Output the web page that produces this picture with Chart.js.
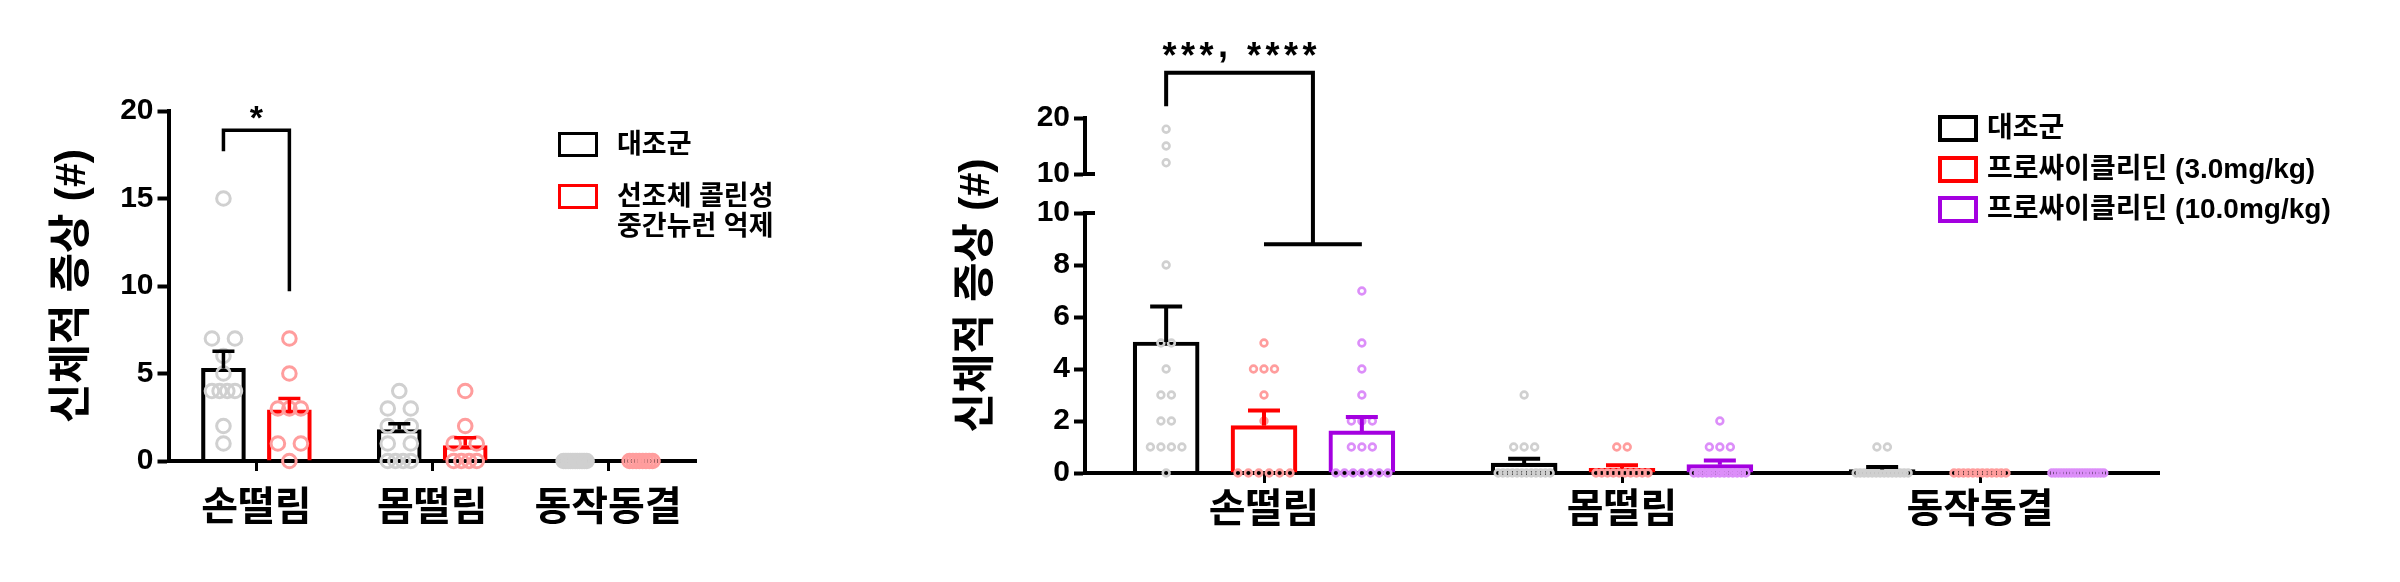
<!DOCTYPE html>
<html lang="ko">
<head>
<meta charset="utf-8">
<script src="https://cdn.jsdelivr.net/npm/chart.js@4.4.1/dist/chart.umd.min.js"></script>
<style>
  html, body { margin: 0; padding: 0; background: #ffffff; }
  body { width: 2400px; height: 582px; position: relative; overflow: hidden;
         font-family: 'Liberation Sans', 'Noto Sans CJK KR', sans-serif; }
  canvas { position: absolute; top: 0; }
  #cvA { left: 0; }
  #cvB { left: 800px; }
  .swatch { position: absolute; box-sizing: border-box; background: #ffffff; }
  .key { position: absolute; font-weight: bold; color: #000000; white-space: nowrap; }
  #legendA .key { font-size: 27px; line-height: 30px; }
  #legendB .key { font-size: 28px; line-height: 30px; }
</style>
</head>
<body>
<canvas id="cvA" width="760" height="582"></canvas>
<canvas id="cvB" width="1600" height="582"></canvas>
<div id="legendA"></div>
<div id="legendB"></div>
<script>
// ----- shared -----
const categories = ['손떨림', '몸떨림', '동작동결'];
const axisTitle = '신체적 증상 (#)';

// ----- panel A: 선조체 콜린성 중간뉴런 억제 -----
const groupsA = [['대조군'], ['선조체 콜린성', '중간뉴런 억제']];
const meanA_ctrl = [5.3, 1.8, 0];
const semA_ctrl = [0.97, 0.33, 0];
const meanA_cin = [2.92, 0.88, 0];
const semA_cin = [0.65, 0.45, 0];
const pointsA_ctrl = [
  [15, 7, 7, 6, 5, 4, 4, 4, 4, 2, 1],
  [4, 3, 3, 2, 2, 1, 1, 0, 0, 0, 0],
  [0, 0, 0, 0, 0, 0, 0, 0, 0, 0, 0]
];
const pointsA_cin = [
  [7, 5, 3, 3, 3, 1, 1, 0],
  [4, 2, 1, 1, 0, 0, 0, 0],
  [0, 0, 0, 0, 0, 0, 0, 0]
];
const ticksA = [0, 5, 10, 15, 20];
const sigA = '*';
const bracketA = [17.7, 18.9, 9.7];   // left leg end, top, right leg end
const sigA_y = 19.9;

// ----- panel B: 프로싸이클리딘 -----
const groupsB = [['대조군'], ['프로싸이클리딘 (3.0mg/kg)'], ['프로싸이클리딘 (10.0mg/kg)']];
const meanB_ctrl = [5.04, 0.38, 0.13];
const semB_ctrl = [1.36, 0.17, 0.1];
const meanB_low = [1.82, 0.18, 0];
const semB_low = [0.58, 0.12, 0];
const meanB_high = [1.62, 0.32, 0];
const semB_high = [0.53, 0.16, 0];
const pointsB_ctrl = [
  [18, 15, 12, 8, 5, 5, 4, 3, 3, 2, 2, 1, 1, 1, 1, 0],
  [3, 1, 1, 1, 0, 0, 0, 0, 0, 0, 0, 0, 0, 0, 0, 0],
  [1, 1, 0, 0, 0, 0, 0, 0, 0, 0, 0, 0, 0, 0, 0, 0]
];
const pointsB_low = [
  [5, 4, 4, 4, 3, 2, 0, 0, 0, 0, 0, 0],
  [1, 1, 0, 0, 0, 0, 0, 0, 0, 0, 0, 0],
  [0, 0, 0, 0, 0, 0, 0, 0, 0, 0, 0, 0]
];
const pointsB_high = [
  [7, 5, 4, 3, 2, 2, 2, 1, 1, 1, 0, 0, 0, 0, 0, 0, 0],
  [2, 1, 1, 1, 0, 0, 0, 0, 0, 0, 0, 0, 0, 0, 0, 0, 0],
  [0, 0, 0, 0, 0, 0, 0, 0, 0, 0, 0, 0, 0, 0, 0, 0, 0]
];
const ticksB_low = [0, 2, 4, 6, 8, 10];
const ticksB_high = [10, 20];
const sigB = '***, ****';
const bracketB = [22.1, 28.1, 8.8];
const sigB_y = 32.1;

// ----- styles -----
const FONT = "'Liberation Sans', 'Noto Sans CJK KR', sans-serif";
const BLACK = '#000000', RED = '#ff0000', PURPLE = '#a400e0';
const GRAY_PT = '#d0d0d0', RED_PT = '#ff9d9d', PURPLE_PT = '#dc8ef9';
const CLEAR = 'rgba(255,255,255,0)';

// centre of group i (of n) inside a category, in category units
function groupOffset(i, n, catPct) {
  return -catPct / 2 + (i + 0.5) * catPct / n;
}

// one bar per category, placed at its group position
function barPoints(means, i, n, catPct) {
  return means.map((m, c) => ({ x: c + groupOffset(i, n, catPct), y: m }));
}

// equal values are laid side by side around the group centre
function spread(perCategory, i, n, catPct, stepPx, maxSpanPx, pxPerCat) {
  const out = [];
  perCategory.forEach((values, c) => {
    const centre = c + groupOffset(i, n, catPct);
    const counts = {}, seen = {};
    values.forEach(v => { counts[v] = (counts[v] || 0) + 1; });
    values.forEach(v => {
      const cnt = counts[v];
      const k = seen[v] = (seen[v] === undefined ? 0 : seen[v] + 1);
      const step = cnt > 1 ? Math.min(stepPx, maxSpanPx / (cnt - 1)) : 0;
      out.push({ x: centre + (k - (cnt - 1) / 2) * step / pxPerCat, y: v });
    });
  });
  return out;
}

// error bars (mean + SEM) drawn over bars and dots
const errorBars = {
  id: 'errorBars',
  afterDatasetsDraw(chart, args, o) {
    const ctx = chart.ctx;
    chart.data.datasets.forEach((ds, di) => {
      if (!ds.sem) return;
      const meta = chart.getDatasetMeta(di);
      const ys = chart.scales[meta.yAxisID];
      meta.data.forEach((bar, i) => {
        const s = ds.sem[i];
        if (!s) return;
        const m = ds.data[i].y;
        const yb = ys.getPixelForValue(m), yt = ys.getPixelForValue(m + s);
        ctx.save();
        ctx.strokeStyle = ds.borderColor;
        ctx.lineWidth = o.lineWidth;
        ctx.lineCap = 'butt';
        ctx.beginPath();
        ctx.moveTo(bar.x, yb); ctx.lineTo(bar.x, yt);
        ctx.moveTo(bar.x - o.capWidth / 2, yt); ctx.lineTo(bar.x + o.capWidth / 2, yt);
        ctx.stroke();
        ctx.restore();
      });
    });
  }
};

// significance bracket with its star label
const sigBracket = {
  id: 'sigBracket',
  afterDraw(chart, args, o) {
    const ctx = chart.ctx, xs = chart.scales.x;
    const yl = chart.scales[o.leftAxis], yt = chart.scales[o.topAxis], yr = chart.scales[o.rightAxis];
    const xl = xs.getPixelForValue(o.xLeft), xr = xs.getPixelForValue(o.xRight);
    const top = yt.getPixelForValue(o.levels[1]);
    const foot = yr.getPixelForValue(o.levels[2]);
    ctx.save();
    ctx.strokeStyle = BLACK;
    ctx.lineWidth = o.lineWidth;
    ctx.lineJoin = 'miter';
    ctx.lineCap = 'butt';
    ctx.beginPath();
    ctx.moveTo(xl, yl.getPixelForValue(o.levels[0]));
    ctx.lineTo(xl, top);
    ctx.lineTo(xr, top);
    ctx.lineTo(xr, foot);
    ctx.stroke();
    if (o.footFrom !== undefined) {
      ctx.beginPath();
      ctx.moveTo(xs.getPixelForValue(o.footFrom), foot);
      ctx.lineTo(xs.getPixelForValue(o.footTo), foot);
      ctx.stroke();
    }
    // label: asterisks centred on labelY, punctuation sitting on a lower baseline
    ctx.fillStyle = BLACK;
    const fs = o.fontSize, gap = o.spacing || 0;
    ctx.font = 'bold ' + fs + 'px ' + FONT;
    ctx.textAlign = 'left';
    ctx.textBaseline = 'alphabetic';
    const cy = yt.getPixelForValue(o.labelY);
    const chars = Array.from(o.text);
    const widths = chars.map(ch => ctx.measureText(ch).width);
    const total = widths.reduce((a, b) => a + b, 0) + gap * (chars.length - 1);
    let x = (xl + xr) / 2 - total / 2;
    chars.forEach((ch, k) => {
      const base = ch === '*' ? cy + 0.48 * fs : cy + 0.2 * fs;
      ctx.fillText(ch, x, base);
      x += widths[k] + gap;
    });
    ctx.restore();
  }
};

// short right-hand stubs marking the break of the y axis
const breakCaps = {
  id: 'breakCaps',
  afterDraw(chart, args, o) {
    if (!o.axes) return;
    const ctx = chart.ctx, x = chart.chartArea.left;
    ctx.save();
    ctx.strokeStyle = BLACK;
    ctx.lineWidth = o.lineWidth;
    o.axes.forEach(([id, v]) => {
      const y = chart.scales[id].getPixelForValue(v);
      ctx.beginPath(); ctx.moveTo(x - 2, y); ctx.lineTo(x + o.length, y); ctx.stroke();
    });
    ctx.restore();
  }
};

function tickList(arr) {
  return s => { s.ticks = arr.map(v => ({ value: v })); };
}

function yAxis(min, max, ticks, width, extra) {
  return Object.assign({
    type: 'linear', position: 'left', min: min, max: max,
    afterBuildTicks: tickList(ticks),
    grid: { display: true, drawOnChartArea: false, drawTicks: true, tickLength: 11,
            tickWidth: 4, tickColor: BLACK },
    border: { display: true, color: BLACK, width: 4 },
    ticks: { color: BLACK, padding: 4, autoSkip: false,
             font: { family: FONT, size: 30, weight: 'bold' } },
    afterFit: s => { s.width = width; }
  }, extra || {});
}

// linear category axis: one unit per category, labels at 0, 1, 2
function xAxis(height, padding) {
  return {
    type: 'linear', position: 'bottom', min: -0.5, max: 2.5, offset: false,
    afterBuildTicks: tickList(categories.map((c, i) => i)),
    grid: { display: true, drawOnChartArea: false, drawTicks: true, tickLength: 10,
            tickWidth: 3, tickColor: BLACK, offset: false },
    border: { display: true, color: BLACK, width: 4 },
    ticks: { color: BLACK, padding: padding, maxRotation: 0, autoSkip: false,
             callback: v => categories[v],
             font: { family: FONT, size: 40, weight: 'bold' } },
    afterFit: s => { s.height = height; }
  };
}

const titleOpts = { display: true, text: axisTitle, color: BLACK, padding: 0,
                    font: { family: FONT, size: 43, weight: 'bold', lineHeight: 1.2 } };

// ================= panel A =================
const catPctA = 0.75, pxPerCatA = (696 - 168.5) / 3;
const barA = (label, means, sem, color, i) => ({
  type: 'bar', label: label, data: barPoints(means, i, 2, catPctA), sem: sem,
  borderColor: color, backgroundColor: CLEAR, borderWidth: 3.5, borderSkipped: 'start',
  grouped: false, barThickness: 44, order: 3, xAxisID: 'x', yAxisID: 'y'
});
const dotsA = (pts, i, color) => ({
  type: 'scatter', data: spread(pts, i, 2, catPctA, 23, 23, pxPerCatA),
  xAxisID: 'x', yAxisID: 'y', order: 1, clip: false,
  pointRadius: 6.8, pointBorderWidth: 3, pointBackgroundColor: CLEAR, pointBorderColor: color,
  pointHoverRadius: 6.8
});

new Chart(document.getElementById('cvA'), {
  type: 'bar',
  data: {
    datasets: [
      barA(groupsA[0].join(' '), meanA_ctrl, semA_ctrl, BLACK, 0),
      barA(groupsA[1].join(' '), meanA_cin, semA_cin, RED, 1),
      dotsA(pointsA_ctrl, 0, GRAY_PT),
      dotsA(pointsA_cin, 1, RED_PT)
    ]
  },
  options: {
    responsive: false, animation: false, devicePixelRatio: 1, events: [],
    layout: { padding: { left: 47, top: 111, right: 64, bottom: 0 } },
    plugins: {
      legend: { display: false }, tooltip: { enabled: false },
      errorBars: { lineWidth: 3.5, capWidth: 22 },
      sigBracket: { leftAxis: 'y', topAxis: 'y', rightAxis: 'y',
                    xLeft: groupOffset(0, 2, catPctA), xRight: groupOffset(1, 2, catPctA),
                    levels: bracketA, text: sigA, labelY: sigA_y, fontSize: 34, lineWidth: 3.5 },
      breakCaps: {}
    },
    scales: {
      x: xAxis(121, 14),
      y: yAxis(0, 20, ticksA, 121.5, { title: titleOpts })
    }
  },
  plugins: [errorBars, sigBracket, breakCaps]
});

// ================= panel B =================
const catPctB = 0.82, pxPerCatB = (2159 - 1085) / 3;
const barB = (label, means, sem, color, i) => ({
  type: 'bar', label: label, data: barPoints(means, i, 3, catPctB), sem: sem,
  borderColor: color, backgroundColor: CLEAR, borderWidth: 3.5, borderSkipped: 'start',
  grouped: false, barThickness: 66, order: 3, xAxisID: 'x', yAxisID: 'y'
});
const dotsB = (pts, i, color, axis, keep) => ({
  type: 'scatter',
  data: spread(pts, i, 3, catPctB, 10.5, 52, pxPerCatB).filter(p => keep(p.y)),
  xAxisID: 'x', yAxisID: axis, order: 1, clip: false,
  pointRadius: 3.4, pointBorderWidth: 2.6, pointBackgroundColor: CLEAR, pointBorderColor: color,
  pointHoverRadius: 3.4
});
const lowPart = v => v <= 10, highPart = v => v > 10;

new Chart(document.getElementById('cvB'), {
  type: 'bar',
  data: {
    datasets: [
      barB(groupsB[0][0], meanB_ctrl, semB_ctrl, BLACK, 0),
      barB(groupsB[1][0], meanB_low, semB_low, RED, 1),
      barB(groupsB[2][0], meanB_high, semB_high, PURPLE, 2),
      dotsB(pointsB_ctrl, 0, GRAY_PT, 'y', lowPart),
      dotsB(pointsB_ctrl, 0, GRAY_PT, 'yTop', highPart),
      dotsB(pointsB_low, 1, RED_PT, 'y', lowPart),
      dotsB(pointsB_high, 2, PURPLE_PT, 'y', lowPart)
    ]
  },
  options: {
    responsive: false, animation: false, devicePixelRatio: 1, events: [],
    layout: { padding: { left: 151, top: 118, right: 241, bottom: 0 } },
    plugins: {
      legend: { display: false }, tooltip: { enabled: false },
      errorBars: { lineWidth: 4, capWidth: 32 },
      sigBracket: { leftAxis: 'yTop', topAxis: 'yTop', rightAxis: 'y',
                    xLeft: groupOffset(0, 3, catPctB),
                    xRight: (groupOffset(1, 3, catPctB) + groupOffset(2, 3, catPctB)) / 2,
                    footFrom: groupOffset(1, 3, catPctB), footTo: groupOffset(2, 3, catPctB),
                    levels: bracketB, text: sigB, labelY: sigB_y, fontSize: 36, spacing: 4.5,
                    lineWidth: 4 },
      breakCaps: { axes: [['yTop', 10], ['y', 10]], length: 10, lineWidth: 4 }
    },
    scales: {
      x: xAxis(109, 4),
      y: yAxis(0, 10, ticksB_low, 85, { stack: 'brk', stackWeight: 260, weight: 1 }),
      yGap: { type: 'linear', position: 'left', stack: 'brk', stackWeight: 39, weight: 2,
              grid: { display: false }, border: { display: false }, ticks: { display: false },
              afterFit: s => { s.width = 85; } },
      yTop: yAxis(10, 20, ticksB_high, 85, { stack: 'brk', stackWeight: 56, weight: 3 }),
      yTitle: { type: 'linear', position: 'left', weight: 10,
                grid: { display: false }, border: { display: false }, ticks: { display: false },
                title: titleOpts, afterFit: s => { s.width = 49; } }
    }
  },
  plugins: [errorBars, sigBracket, breakCaps]
});

// ================= legends =================
function buildLegend(hostId, groups, colors, box, textLeft, rows, border) {
  const host = document.getElementById(hostId);
  groups.forEach((lines, i) => {
    const sw = document.createElement('div');
    sw.className = 'swatch';
    sw.style.left = box.left + 'px';
    sw.style.top = rows[i] + 'px';
    sw.style.width = box.w + 'px';
    sw.style.height = box.h + 'px';
    sw.style.border = border + 'px solid ' + colors[i];
    host.appendChild(sw);
    const tx = document.createElement('div');
    tx.className = 'key';
    tx.style.left = textLeft + 'px';
    tx.style.top = (rows[i] + box.h / 2 - 16) + 'px';
    tx.innerHTML = lines.map(l => l.replace(/&/g, '&amp;').replace(/</g, '&lt;')).join('<br>');
    host.appendChild(tx);
  });
}
buildLegend('legendA', groupsA, [BLACK, RED], { left: 558, w: 40, h: 25 }, 617, [132, 184], 3.5);
buildLegend('legendB', groupsB, [BLACK, RED, PURPLE], { left: 1938, w: 40, h: 27 }, 1987,
            [115, 156, 196], 4);
</script>
</body>
</html>
